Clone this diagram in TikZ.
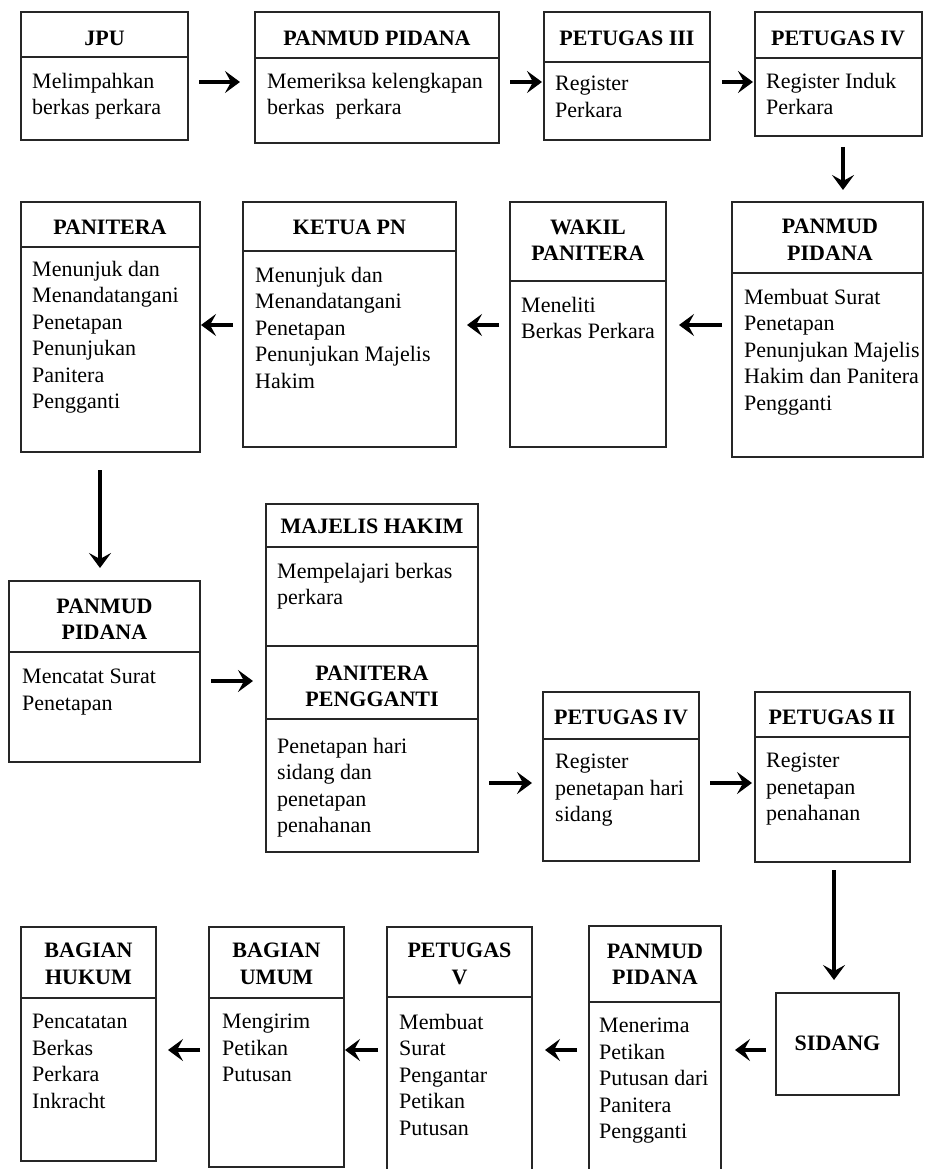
\documentclass[tikz,border=0pt]{standalone}
\usepackage{fontspec}
\setmainfont{Liberation Serif}
\usetikzlibrary{arrows.meta}

\begin{document}
\begin{tikzpicture}[x=1pt,y=-1pt,
    kotak/.style={draw=black!85, line width=1.3pt, inner sep=0pt, outer sep=0pt, anchor=north west},
    garis/.style={draw=black!85, line width=1.3pt},
    judul/.style={font=\fontsize{22}{26.5}\selectfont\bfseries, align=center, inner sep=0pt},
    isi/.style={font=\fontsize{22}{26.5}\selectfont, align=left, anchor=north west, inner sep=0pt},
    panah/.style={line width=3.4pt, -{Stealth[length=15pt,width=22pt,inset=6pt]}}]
    \useasboundingbox (0,0) rectangle (924,1169);
    % baris 1
    \node [kotak, minimum width=167pt, minimum height=128pt] (jpu) at (21,12) {};
    \draw [garis] (jpu.west |- 0,57) -- (jpu.east |- 0,57);
    \node [judul] (jpuT) at (104.5,38) {JPU};
    \node [isi] (jpuB) at (32,73) {Melimpahkan\\berkas perkara};
    \node [kotak, minimum width=244pt, minimum height=131pt] (pnmA) at (255,12) {};
    \draw [garis] (pnmA.west |- 0,58) -- (pnmA.east |- 0,58);
    \node [judul] (pnmAT) at (377,38) {PANMUD PIDANA};
    \node [isi] (pnmAB) at (267,73) {Memeriksa kelengkapan\\berkas\ \ perkara};
    \node [kotak, minimum width=166pt, minimum height=128pt] (ptg3) at (544,12) {};
    \draw [garis] (ptg3.west |- 0,62) -- (ptg3.east |- 0,62);
    \node [judul] (ptg3T) at (627,38) {PETUGAS III};
    \node [isi] (ptg3B) at (555,76) {Register\\Perkara};
    \node [kotak, minimum width=167pt, minimum height=124pt] (ptg4) at (755,12) {};
    \draw [garis] (ptg4.west |- 0,58) -- (ptg4.east |- 0,58);
    \node [judul] (ptg4T) at (838,38) {PETUGAS IV};
    \node [isi] (ptg4B) at (766,73) {Register Induk\\Perkara};
    % baris 2
    \node [kotak, minimum width=191pt, minimum height=255pt] (pnmB) at (732,202) {};
    \draw [garis] (pnmB.west |- 0,273) -- (pnmB.east |- 0,273);
    \node [judul] (pnmBT) at (830,240) {PANMUD\\PIDANA};
    \node [isi] (pnmBB) at (744,289) {Membuat Surat\\Penetapan\\Penunjukan Majelis\\Hakim dan Panitera\\Pengganti};
    \node [kotak, minimum width=156pt, minimum height=245pt] (wakil) at (510,202) {};
    \draw [garis] (wakil.west |- 0,281) -- (wakil.east |- 0,281);
    \node [judul] (wakilT) at (588,240) {WAKIL\\PANITERA};
    \node [isi] (wakilB) at (521,297) {Meneliti\\Berkas Perkara};
    \node [kotak, minimum width=213pt, minimum height=245pt] (ketua) at (243,202) {};
    \draw [garis] (ketua.west |- 0,251) -- (ketua.east |- 0,251);
    \node [judul] (ketuaT) at (349.5,227) {KETUA PN};
    \node [isi] (ketuaB) at (255,267) {Menunjuk dan\\Menandatangani\\Penetapan\\Penunjukan Majelis\\Hakim};
    \node [kotak, minimum width=179pt, minimum height=250pt] (panitera) at (21,202) {};
    \draw [garis] (panitera.west |- 0,247) -- (panitera.east |- 0,247);
    \node [judul] (paniteraT) at (110,227) {PANITERA};
    \node [isi] (paniteraB) at (32,261) {Menunjuk dan\\Menandatangani\\Penetapan\\Penunjukan\\Panitera\\Pengganti};
    % baris 3
    \node [kotak, minimum width=191pt, minimum height=181pt] (pnmC) at (9,581) {};
    \draw [garis] (pnmC.west |- 0,652) -- (pnmC.east |- 0,652);
    \node [judul] (pnmCT) at (104.5,619.5) {PANMUD\\PIDANA};
    \node [isi] (pnmCB) at (22,669) {Mencatat Surat\\Penetapan};
    \node [kotak, minimum width=212pt, minimum height=348pt] (majelis) at (266,504) {};
    \draw [garis] (majelis.west |- 0,547) -- (majelis.east |- 0,547);
    \draw [garis, line width=2.2pt] (majelis.west |- 0,646) -- (majelis.east |- 0,646);
    \draw [garis] (majelis.west |- 0,719) -- (majelis.east |- 0,719);
    \node [judul] (majelisT) at (372,526) {MAJELIS HAKIM};
    \node [isi] (majelisB) at (277,563) {Mempelajari berkas\\perkara};
    \node [judul] (pengT) at (372,686.5) {PANITERA\\PENGGANTI};
    \node [isi] (pengB) at (277,738) {Penetapan hari\\sidang dan\\penetapan\\penahanan};
    \node [kotak, minimum width=156pt, minimum height=169pt] (ptg4b) at (543,692) {};
    \draw [garis] (ptg4b.west |- 0,739) -- (ptg4b.east |- 0,739);
    \node [judul] (ptg4bT) at (621,717) {PETUGAS IV};
    \node [isi] (ptg4bB) at (555,754) {Register\\penetapan hari\\sidang};
    \node [kotak, minimum width=155pt, minimum height=170pt] (ptg2) at (755,692) {};
    \draw [garis] (ptg2.west |- 0,737) -- (ptg2.east |- 0,737);
    \node [judul] (ptg2T) at (832,717) {PETUGAS II};
    \node [isi] (ptg2B) at (766,753) {Register\\penetapan\\penahanan};
    % baris 4
    \node [kotak, minimum width=123pt, minimum height=102pt] (sidang) at (776,993) {};
    \node [judul] (sidangT) at (837.5,1043) {SIDANG};
    \node [kotak, minimum width=132pt, minimum height=250pt] (pnmD) at (589,926) {};
    \draw [garis] (pnmD.west |- 0,1002) -- (pnmD.east |- 0,1002);
    \node [judul] (pnmDT) at (655,964) {PANMUD\\PIDANA};
    \node [isi] (pnmDB) at (599,1018) {Menerima\\Petikan\\Putusan dari\\Panitera\\Pengganti};
    \node [kotak, minimum width=145pt, minimum height=250pt] (ptg5) at (387,927) {};
    \draw [garis] (ptg5.west |- 0,997) -- (ptg5.east |- 0,997);
    \node [judul] (ptg5T) at (459.5,964) {PETUGAS\\V};
    \node [isi] (ptg5B) at (399,1014) {Membuat\\Surat\\Pengantar\\Petikan\\Putusan};
    \node [kotak, minimum width=135pt, minimum height=240pt] (umum) at (209,927) {};
    \draw [garis] (umum.west |- 0,998) -- (umum.east |- 0,998);
    \node [judul] (umumT) at (276.5,964) {BAGIAN\\UMUM};
    \node [isi] (umumB) at (222,1014) {Mengirim\\Petikan\\Putusan};
    \node [kotak, minimum width=135pt, minimum height=234pt] (hukum) at (21,927) {};
    \draw [garis] (hukum.west |- 0,998) -- (hukum.east |- 0,998);
    \node [judul] (hukumT) at (88.5,964) {BAGIAN\\HUKUM};
    \node [isi] (hukumB) at (32,1014) {Pencatatan\\Berkas\\Perkara\\Inkracht};
    % panah
    \coordinate (r1) at (0,82);
    \coordinate (r2) at (0,325);
    \coordinate (r3) at (0,681);
    \coordinate (r4) at (0,783);
    \coordinate (r5) at (0,1050);
    \coordinate (k1) at (843,0);
    \coordinate (k2) at (100,0);
    \coordinate (k3) at (834,0);
    \draw [panah, shorten <=11pt, shorten >=15pt] (jpu.east |- r1) -- (pnmA.west |- r1);
    \draw [panah, shorten <=11pt, shorten >=2pt] (pnmA.east |- r1) -- (ptg3.west |- r1);
    \draw [panah, shorten <=12pt, shorten >=2pt] (ptg3.east |- r1) -- (ptg4.west |- r1);
    \draw [panah, shorten <=11pt, shorten >=12pt] (ptg4.south -| k1) -- (pnmB.north -| k1);
    \draw [panah, shorten <=10pt, shorten >=13pt] (pnmB.west |- r2) -- (wakil.east |- r2);
    \draw [panah, shorten <=11pt, shorten >=11pt] (wakil.west |- r2) -- (ketua.east |- r2);
    \draw [panah, shorten <=10pt, shorten >=1pt] (ketua.west |- r2) -- (panitera.east |- r2);
    \draw [panah, shorten <=18pt, shorten >=13pt] (panitera.south -| k2) -- (pnmC.north -| k2);
    \draw [panah, shorten <=11pt, shorten >=13pt] (pnmC.east |- r3) -- (majelis.west |- r3);
    \draw [panah, shorten <=11pt, shorten >=11pt] (majelis.east |- r4) -- (ptg4b.west |- r4);
    \draw [panah, shorten <=11pt, shorten >=3pt] (ptg4b.east |- r4) -- (ptg2.west |- r4);
    \draw [panah, shorten <=8pt, shorten >=13pt] (ptg2.south -| k3) -- (sidang.north -| k3);
    \draw [panah, shorten <=10pt, shorten >=14pt] (sidang.west |- r5) -- (pnmD.east |- r5);
    \draw [panah, shorten <=12pt, shorten >=13pt] (pnmD.west |- r5) -- (ptg5.east |- r5);
    \draw [panah, shorten <=9pt, shorten >=1pt] (ptg5.west |- r5) -- (umum.east |- r5);
    \draw [panah, shorten <=9pt, shorten >=12pt] (umum.west |- r5) -- (hukum.east |- r5);
\end{tikzpicture}
\end{document}
